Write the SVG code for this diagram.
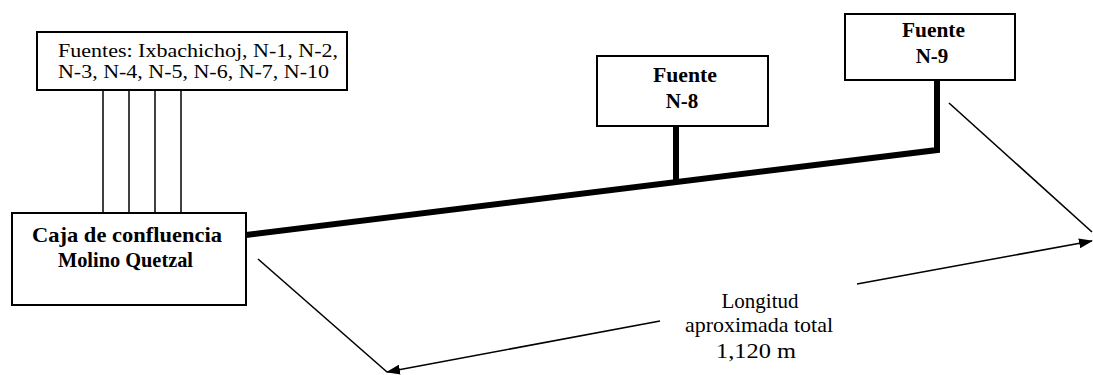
<svg xmlns="http://www.w3.org/2000/svg" width="1093" height="375" viewBox="0 0 1093 375">
<style>
.box{fill:#fff;stroke:#000;stroke-width:2}
.t{font-family:"Liberation Serif","Times New Roman",serif;fill:#000}
.b{font-weight:bold;font-size:21px}
.thin{stroke:#000;stroke-width:1.5;fill:none}
.pipe{stroke:#000;stroke-width:6;fill:none;stroke-linejoin:miter}
.dim{stroke:#000;stroke-width:1.6;fill:none}
</style>
<defs>
<marker id="ah" viewBox="0 0 14 10" refX="13" refY="5" markerWidth="14" markerHeight="10" markerUnits="userSpaceOnUse" orient="auto">
<path d="M0,0 L14,5 L0,10 Z" fill="#000"/>
</marker>
</defs>
<g id="connectors">
<line class="thin" x1="103" y1="90" x2="103" y2="213"/>
<line class="thin" x1="129" y1="90" x2="129" y2="213"/>
<line class="thin" x1="155" y1="90" x2="155" y2="213"/>
<line class="thin" x1="181" y1="90" x2="181" y2="213"/>
<path class="pipe" d="M246,235 L937,150 L937,80"/>
<line class="pipe" x1="676" y1="126" x2="676" y2="183"/>
<line class="dim" x1="258" y1="259" x2="387" y2="372"/>
<line class="dim" x1="949" y1="103" x2="1092" y2="232"/>
<line class="dim" x1="660" y1="321" x2="387" y2="372" marker-end="url(#ah)"/>
<line class="dim" x1="857" y1="284" x2="1092" y2="241" marker-end="url(#ah)"/>
</g>
<g id="fuentes">
<rect class="box" x="37" y="32" width="310" height="58"/>
<text class="t" font-size="18" x="58" y="57" textLength="280" lengthAdjust="spacingAndGlyphs">Fuentes: Ixbachichoj, N-1, N-2,</text>
<text class="t" font-size="18" x="58" y="78" textLength="271" lengthAdjust="spacingAndGlyphs">N-3, N-4, N-5, N-6, N-7, N-10</text>
</g>
<g id="caja">
<rect class="box" x="12" y="213" width="234" height="92"/>
<text class="t b" x="32" y="242" textLength="190" lengthAdjust="spacingAndGlyphs">Caja de confluencia</text>
<text class="t b" x="58" y="267" textLength="135" lengthAdjust="spacingAndGlyphs">Molino Quetzal</text>
</g>
<g id="n8">
<rect class="box" x="597" y="56" width="171" height="70"/>
<text class="t b" x="653" y="82" textLength="64" lengthAdjust="spacingAndGlyphs">Fuente</text>
<text class="t b" x="682" y="108" text-anchor="middle">N-8</text>
</g>
<g id="n9">
<rect class="box" x="845" y="14" width="170" height="66"/>
<text class="t b" x="902" y="37" textLength="63" lengthAdjust="spacingAndGlyphs">Fuente</text>
<text class="t b" x="932" y="63" text-anchor="middle">N-9</text>
</g>
<g id="longitud">
<text class="t" font-size="21" x="760" y="308" text-anchor="middle">Longitud</text>
<text class="t" font-size="21" x="685" y="332" textLength="148" lengthAdjust="spacingAndGlyphs">aproximada total</text>
<text class="t" font-size="21" x="716" y="358" textLength="80" lengthAdjust="spacingAndGlyphs">1,120 m</text>
</g>
</svg>
